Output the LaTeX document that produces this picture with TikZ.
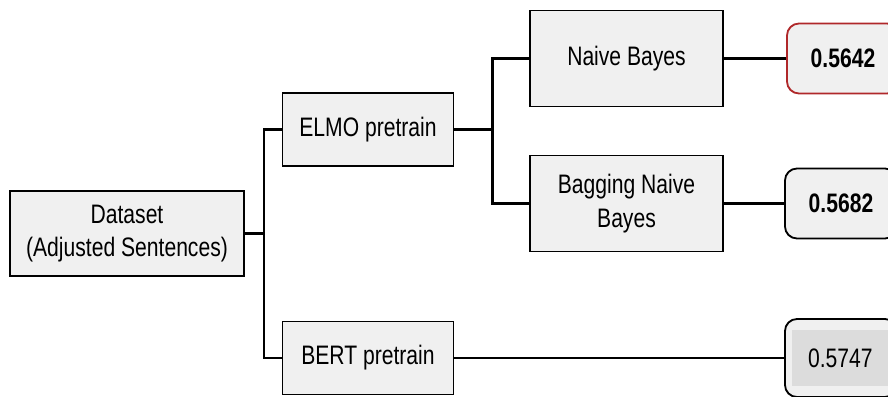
\documentclass[tikz,border=0pt]{standalone}
\usepackage{fontspec}
\setmainfont[FakeStretch=0.79]{Liberation Sans}
\usetikzlibrary{positioning}
\definecolor{boxgray}{HTML}{F0F0F0}
\definecolor{innergray}{HTML}{DCDCDC}
\definecolor{resred}{HTML}{B0282A}

\begin{document}
\begin{tikzpicture}[x=0.025cm, y=-0.025cm,
    stage box/.style={draw, line width=1.3pt, fill=boxgray, font=\fontsize{19}{24}\selectfont, align=center, inner sep=0pt},
    data box/.style={stage box, minimum width=5.85cm, minimum height=2.125cm},
    pre box/.style={stage box, minimum width=4.275cm, minimum height=1.825cm},
    clf box/.style={stage box, minimum width=4.825cm, minimum height=2.4cm},
    res box/.style={stage box, rounded corners=3mm, minimum width=2.8cm, minimum height=1.75cm, font=\fontsize{19}{24}\selectfont\bfseries},
    link/.style={line width=1.7pt}
]
    \useasboundingbox (0,0) rectangle (888,396);

    % Input and pretraining
    \node[data box] (data) at (127,233.5) {Dataset\\(Adjusted Sentences)};
    \node[pre box] (elmo) at (368,129.5) {ELMO pretrain};
    \node[pre box] (bert) at (368,358) {BERT pretrain};

    % Classifiers on ELMO
    \node[clf box] (nb) at (626.5,58.5) {Naive Bayes};
    \node[clf box] (bnb) at (626.5,203.5) {Bagging Naive\\Bayes};

    % Scores
    \node[res box, draw=resred] (res_nb) at (843,58.5) {0.5642};
    \node[res box] (res_bnb) at (841,203.5) {0.5682};
    \node[res box, minimum height=1.95cm] (res_bert) at (841,358) {};
    \node[fill=innergray, minimum width=2.4cm, minimum height=1.4cm, inner sep=0pt, anchor=west,
        font=\fontsize{19}{24}\selectfont] (res_bert_in) at ([xshift=0.2cm]res_bert.west) {0.5747};

    % Connectors
    \draw[link] (data.east) -- ++(19,0) coordinate (fork1);
    \draw[link] (elmo.west) -| (fork1) |- (bert.west);
    \draw[link] (elmo.east) -- ++(38,0) coordinate (fork2);
    \draw[link] (nb.west) -| (fork2) |- (bnb.west);
    \draw[link] (nb.east) -- (res_nb.west);
    \draw[link] (bnb.east) -- (res_bnb.west);
    \draw[link] (bert.east) -- (res_bert.west);
\end{tikzpicture}
\end{document}
